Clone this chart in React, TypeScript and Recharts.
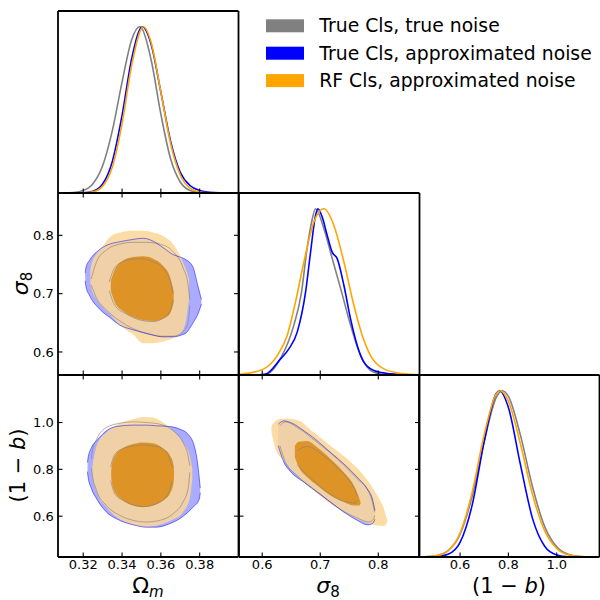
import React from 'react'
import { Area, ComposedChart, Line, XAxis, YAxis } from 'recharts'

// tick values
const omTicks = [0.32, 0.34, 0.36, 0.38]
const s8Ticks = [0.6, 0.7, 0.8]
const bTicks = [0.6, 0.8, 1.0]

// axis ranges
const omRange = [0.307, 0.4]
const s8RangeX = [0.56, 0.871]
const s8RangeY = [0.5605, 0.8726]
const bRangeX = [0.43, 1.177]
const bRangeY = [0.4255, 1.203]
const pdfRange = [0, 1.095]

const seriesNames = ['True Cls, true noise', 'True Cls, approximated noise', 'RF Cls, approximated noise']
const GRAY = '#808080'
const BLUE = '#0000ff'
const ORANGE = '#ffa500'
const seriesColors = [GRAY, BLUE, ORANGE]

// 1D marginals [x, p/pmax]
const omTrueTrue = [[0.307, 0], [0.31, 0.0005], [0.315, 0.003], [0.32, 0.015], [0.325, 0.056], [0.33, 0.164], [0.335, 0.375], [0.34, 0.667], [0.345, 0.923], [0.349, 1.0], [0.35, 0.994], [0.355, 0.8], [0.36, 0.474], [0.365, 0.206], [0.37, 0.066], [0.375, 0.015], [0.38, 0.003], [0.385, 0.0003], [0.39, 0], [0.4, 0]]
const omTrueApprox = [[0.307, 0], [0.315, 0.0002], [0.32, 0.0016], [0.325, 0.011], [0.33, 0.054], [0.335, 0.19], [0.34, 0.466], [0.345, 0.81], [0.3505, 1.0], [0.355, 0.894], [0.36, 0.607], [0.365, 0.312], [0.37, 0.125], [0.375, 0.045], [0.38, 0.015], [0.385, 0.004], [0.39, 0.001], [0.4, 0]]
const omRfApprox = [[0.307, 0], [0.315, 0.0001], [0.32, 0.0009], [0.325, 0.0074], [0.33, 0.041], [0.335, 0.156], [0.34, 0.416], [0.345, 0.77], [0.351, 1.0], [0.355, 0.906], [0.36, 0.607], [0.365, 0.298], [0.37, 0.108], [0.375, 0.029], [0.38, 0.0056], [0.385, 0.001], [0.39, 0], [0.4, 0]]

const s8TrueTrue = [[0.56, 0], [0.59, 0], [0.6086, 0.007], [0.6316, 0.1], [0.6545, 0.3], [0.6678, 0.5], [0.6764, 0.739], [0.684, 0.9], [0.6919, 1.0], [0.7063, 0.88], [0.7207, 0.7], [0.7367, 0.5], [0.7522, 0.3], [0.7695, 0.117], [0.7924, 0.017], [0.82, 0], [0.871, 0]]
const s8TrueApprox = [[0.56, 0], [0.59, 0], [0.6057, 0.005], [0.6316, 0.097], [0.6459, 0.157], [0.6603, 0.258], [0.6747, 0.498], [0.6833, 0.739], [0.6919, 0.96], [0.6959, 1.0], [0.7034, 0.95], [0.712, 0.84], [0.7206, 0.739], [0.7292, 0.7], [0.7407, 0.54], [0.7522, 0.338], [0.7637, 0.178], [0.7752, 0.077], [0.7924, 0.027], [0.8212, 0.007], [0.85, 0], [0.871, 0]]
const s8RfApprox = [[0.56, 0.003], [0.5683, 0.007], [0.6028, 0.037], [0.6258, 0.117], [0.643, 0.238], [0.6574, 0.44], [0.6718, 0.68], [0.689, 0.92], [0.7063, 1.0], [0.7235, 0.9], [0.7408, 0.68], [0.758, 0.418], [0.7724, 0.238], [0.7867, 0.117], [0.8097, 0.037], [0.8442, 0.007], [0.871, 0.002]]

const bTrueTrue = [[0.43, 0], [0.45, 0.0011], [0.5, 0.0076], [0.55, 0.038], [0.6, 0.138], [0.65, 0.365], [0.7, 0.696], [0.75, 0.96], [0.775, 1.0], [0.8, 0.966], [0.85, 0.732], [0.9, 0.421], [0.95, 0.183], [1.0, 0.061], [1.05, 0.015], [1.1, 0.0029], [1.15, 0.0004], [1.177, 0]]
const bTrueApprox = [[0.43, 0], [0.45, 0.0001], [0.5, 0.0018], [0.55, 0.016], [0.6, 0.088], [0.65, 0.312], [0.7, 0.696], [0.75, 0.985], [0.763, 1.0], [0.8, 0.899], [0.85, 0.554], [0.9, 0.231], [0.95, 0.065], [1.0, 0.0124], [1.05, 0.0016], [1.1, 0], [1.177, 0]]
const bRfApprox = [[0.43, 0], [0.45, 0.0009], [0.5, 0.0068], [0.55, 0.037], [0.6, 0.144], [0.65, 0.389], [0.7, 0.738], [0.75, 0.983], [0.7655, 1.0], [0.8, 0.937], [0.85, 0.679], [0.9, 0.375], [0.95, 0.158], [1.0, 0.051], [1.05, 0.012], [1.1, 0.0024], [1.15, 0.0003], [1.177, 0]]

// 2D contours [x, lower, upper]
const omS8GrayOuter = [[0.3241, 0.715, 0.725], [0.3269, 0.692, 0.755], [0.332, 0.672, 0.775], [0.3389, 0.653, 0.785], [0.3457, 0.64, 0.788], [0.3526, 0.632, 0.788], [0.3594, 0.627, 0.785], [0.3663, 0.627, 0.772], [0.3714, 0.635, 0.745], [0.374, 0.65, 0.715], [0.3749, 0.68, 0.69]]
const omS8GrayInner = [[0.3334, 0.705, 0.72], [0.3363, 0.68, 0.745], [0.3423, 0.665, 0.757], [0.3491, 0.655, 0.76], [0.356, 0.652, 0.755], [0.362, 0.66, 0.74], [0.3654, 0.675, 0.715], [0.3663, 0.69, 0.7]]
const omS8BlueOuter = [[0.321, 0.722, 0.735], [0.3214, 0.712, 0.745], [0.3234, 0.696, 0.758], [0.3286, 0.673, 0.776], [0.3337, 0.659, 0.785], [0.3389, 0.646, 0.789], [0.3457, 0.638, 0.793], [0.3509, 0.633, 0.795], [0.356, 0.629, 0.79], [0.3611, 0.626, 0.779], [0.3663, 0.626, 0.767], [0.3706, 0.629, 0.762], [0.3731, 0.633, 0.758], [0.3766, 0.65, 0.745], [0.3791, 0.665, 0.713], [0.3809, 0.682, 0.69]]
const omS8BlueInner = [[0.3354, 0.7, 0.715], [0.338, 0.678, 0.738], [0.3423, 0.665, 0.752], [0.3474, 0.657, 0.758], [0.3526, 0.652, 0.758], [0.3577, 0.655, 0.752], [0.3629, 0.663, 0.738], [0.3654, 0.68, 0.715], [0.3663, 0.695, 0.7]]
const omS8RfOuter = [[0.3236, 0.72, 0.738], [0.3241, 0.71, 0.748], [0.3269, 0.69, 0.768], [0.3303, 0.676, 0.782], [0.3337, 0.665, 0.797], [0.3389, 0.646, 0.805], [0.3457, 0.63, 0.808], [0.3509, 0.615, 0.808], [0.356, 0.615, 0.805], [0.3611, 0.618, 0.799], [0.3663, 0.624, 0.785], [0.3706, 0.633, 0.76], [0.3731, 0.656, 0.74], [0.3745, 0.69, 0.725]]
const omS8RfInner = [[0.3342, 0.705, 0.722], [0.3363, 0.685, 0.742], [0.3406, 0.67, 0.757], [0.3457, 0.66, 0.763], [0.3509, 0.655, 0.764], [0.356, 0.653, 0.76], [0.3611, 0.657, 0.748], [0.3646, 0.665, 0.73], [0.3666, 0.685, 0.705]]

const omBGrayOuter = [[0.3243, 0.805, 0.845], [0.3245, 0.787, 0.872], [0.3269, 0.709, 0.929], [0.332, 0.645, 0.979], [0.3389, 0.603, 0.997], [0.3457, 0.582, 1.003], [0.3526, 0.575, 1.0], [0.3594, 0.582, 0.993], [0.3663, 0.61, 0.965], [0.3714, 0.66, 0.915], [0.374, 0.716, 0.858], [0.3749, 0.787, 0.816]]
const omBGrayInner = [[0.3341, 0.752, 0.809], [0.3363, 0.695, 0.865], [0.3423, 0.66, 0.894], [0.3509, 0.641, 0.904], [0.3594, 0.66, 0.894], [0.3637, 0.695, 0.861], [0.3659, 0.752, 0.809]]
const omBBlueOuter = [[0.3222, 0.79, 0.83], [0.3224, 0.773, 0.844], [0.3243, 0.716, 0.894], [0.3269, 0.674, 0.922], [0.332, 0.617, 0.965], [0.3371, 0.589, 0.983], [0.3457, 0.563, 0.989], [0.3526, 0.553, 0.989], [0.3577, 0.553, 0.986], [0.3646, 0.568, 0.983], [0.3697, 0.589, 0.972], [0.374, 0.617, 0.95], [0.3774, 0.645, 0.894], [0.3791, 0.66, 0.816], [0.38, 0.681, 0.745], [0.3803, 0.7, 0.72]]
const omBBlueInner = [[0.3354, 0.752, 0.801], [0.338, 0.695, 0.865], [0.3423, 0.663, 0.889], [0.3509, 0.645, 0.901], [0.3594, 0.66, 0.894], [0.3637, 0.695, 0.865], [0.3654, 0.745, 0.816]]
const omBRfOuter = [[0.3246, 0.785, 0.805], [0.3248, 0.773, 0.816], [0.3269, 0.702, 0.901], [0.332, 0.638, 0.957], [0.3371, 0.596, 0.989], [0.3457, 0.563, 1.014], [0.3509, 0.553, 1.024], [0.356, 0.556, 1.021], [0.3611, 0.568, 1.0], [0.3663, 0.586, 0.965], [0.3714, 0.617, 0.915], [0.3749, 0.674, 0.858], [0.3762, 0.759, 0.801]]
const omBRfInner = [[0.3344, 0.77, 0.79], [0.3346, 0.752, 0.809], [0.3363, 0.702, 0.858], [0.3406, 0.667, 0.891], [0.3457, 0.645, 0.908], [0.3509, 0.638, 0.915], [0.356, 0.645, 0.911], [0.3611, 0.667, 0.889], [0.3646, 0.695, 0.861], [0.3666, 0.745, 0.816], [0.3668, 0.77, 0.79]]

const s8BGrayOuter = [[0.6305, 0.901, 0.986], [0.6402, 0.83, 1.003], [0.6603, 0.773, 0.979], [0.6948, 0.705, 0.915], [0.7293, 0.638, 0.844], [0.7638, 0.592, 0.759], [0.7839, 0.575, 0.702], [0.7914, 0.586, 0.645], [0.7937, 0.603, 0.617]]
const s8BGrayInner = [[0.6603, 0.82, 0.88], [0.6776, 0.776, 0.898], [0.7006, 0.726, 0.868], [0.7236, 0.684, 0.82], [0.7466, 0.66, 0.762], [0.7609, 0.656, 0.705], [0.7638, 0.668, 0.685]]
const s8BBlueOuter = [[0.6276, 0.901, 0.993], [0.6374, 0.83, 1.007], [0.6489, 0.79, 1.0], [0.6718, 0.745, 0.965], [0.6948, 0.702, 0.922], [0.7178, 0.66, 0.872], [0.7408, 0.617, 0.823], [0.7638, 0.582, 0.766], [0.781, 0.563, 0.716], [0.7897, 0.568, 0.674], [0.7943, 0.586, 0.624]]
const s8BBlueInner = [[0.6632, 0.816, 0.887], [0.6776, 0.773, 0.901], [0.7006, 0.723, 0.872], [0.7236, 0.681, 0.823], [0.7466, 0.657, 0.766], [0.7609, 0.653, 0.709], [0.7649, 0.66, 0.681]]
const s8BRfOuter = [[0.6161, 0.957, 0.986], [0.623, 0.887, 1.007], [0.6374, 0.837, 1.017], [0.6603, 0.773, 1.011], [0.6891, 0.709, 0.957], [0.7178, 0.653, 0.901], [0.7466, 0.61, 0.844], [0.7753, 0.575, 0.773], [0.7983, 0.56, 0.688], [0.8098, 0.558, 0.631], [0.8155, 0.575, 0.582]]
const s8BRfInner = [[0.6563, 0.851, 0.901], [0.6632, 0.809, 0.918], [0.6776, 0.766, 0.921], [0.6948, 0.731, 0.894], [0.7178, 0.688, 0.844], [0.7408, 0.66, 0.787], [0.758, 0.645, 0.731], [0.7667, 0.645, 0.681], [0.7695, 0.653, 0.66]]

// layout of the triangle
const COLS = [58, 238.5, 419]
const ROWS = [10.5, 192.5, 374.5]
const PW = 180.5
const PH = 182
const PAD = 60

const frame = { stroke: '#000', strokeWidth: 1.8 }
const tickLn = { stroke: '#000', strokeWidth: 1.1 }
const tickTxt = { fill: '#000', fontSize: 13 }
const noLabel = () => <g />
const fmt1 = (v: number) => v.toFixed(1)
const fmt2 = (v: number) => v.toFixed(2)

type PanelProps = {
    col: number
    row: number
    xRange: number[]
    yRange: number[]
    xTicks: number[]
    yTicks?: number[]
    xFmt: (v: number) => string
    xLabels?: boolean
    yLabels?: boolean
    children: React.ReactNode
}

const Panel = ({ col, row, xRange, yRange, xTicks, yTicks, xFmt, xLabels, yLabels, children }: PanelProps) => (
    <div style={{ position: 'absolute', left: COLS[col] - PAD, top: ROWS[row] - PAD }}>
        <ComposedChart width={PW + 2 * PAD} height={PH + 2 * PAD} margin={{ top: 0, right: 0, bottom: 0, left: 0 }}>
            <XAxis xAxisId='b' orientation='bottom' type='number' dataKey='x' domain={xRange} allowDataOverflow ticks={xTicks} interval={0} height={PAD}
                axisLine={frame} tickLine={tickLn} tickSize={-4.5} tickMargin={7.5} tick={xLabels ? tickTxt : noLabel} tickFormatter={xFmt} />
            <XAxis xAxisId='t' orientation='top' type='number' dataKey='x' domain={xRange} allowDataOverflow ticks={xTicks} interval={0} height={PAD}
                axisLine={frame} tickLine={yTicks ? tickLn : false} tickSize={-4.5} tick={noLabel} />
            <YAxis yAxisId='l' orientation='left' type='number' domain={yRange} allowDataOverflow ticks={yTicks} interval={0} width={PAD}
                axisLine={frame} tickLine={yTicks ? tickLn : false} tickSize={-4.5} tickMargin={8.7} tick={yLabels ? tickTxt : noLabel} tickFormatter={fmt1} />
            <YAxis yAxisId='r' orientation='right' type='number' domain={yRange} allowDataOverflow ticks={yTicks} interval={0} width={PAD}
                axisLine={frame} tickLine={yTicks ? tickLn : false} tickSize={-4.5} tick={noLabel} />
            {children}
        </ComposedChart>
    </div>
)

const curve = (pts: number[][], color: string) => (
    <Line xAxisId='b' yAxisId='l' data={pts.map(([x, y]) => ({ x, y }))} dataKey='y' type='monotone'
        stroke={color} strokeWidth={1.6} dot={false} activeDot={false} isAnimationActive={false} />
)

const toRange = (pts: number[][]) => pts.map(([x, lo, hi]) => ({ x, r: [lo, hi] }))

const fillArea = (pts: number[][], fill: string, opacity: number) => (
    <Area xAxisId='b' yAxisId='l' data={toRange(pts)} dataKey='r' type='monotone' fill={fill} fillOpacity={opacity}
        stroke='none' dot={false} activeDot={false} isAnimationActive={false} />
)

const lineArea = (pts: number[][], color: string, opacity: number) => (
    <Area xAxisId='b' yAxisId='l' data={toRange(pts)} dataKey='r' type='monotone' fill='none' stroke={color}
        strokeOpacity={opacity} strokeWidth={1} dot={false} activeDot={false} isAnimationActive={false} />
)

const contours = (grayOut: number[][], grayIn: number[][], blueOut: number[][], blueIn: number[][], rfOut: number[][], rfIn: number[][]) => [
    fillArea(blueOut, BLUE, 0.33),
    fillArea(blueIn, BLUE, 0.33),
    fillArea(rfOut, '#fcd696', 0.85),
    fillArea(rfIn, '#dc8a10', 0.85),
    lineArea(grayOut, GRAY, 0.6),
    lineArea(grayIn, GRAY, 0.6),
    lineArea(blueOut, BLUE, 0.5),
].map((el, i) => React.cloneElement(el, { key: i }))

const App = () => (
    <div style={{ position: 'absolute', left: 0, top: 0, width: 600, height: 600, overflow: 'hidden', background: '#fff', fontFamily: '"DejaVu Sans", sans-serif' }}>
        <Panel col={0} row={0} xRange={omRange} yRange={pdfRange} xTicks={omTicks} xFmt={fmt2}>
            {curve(omTrueTrue, GRAY)}
            {curve(omTrueApprox, BLUE)}
            {curve(omRfApprox, ORANGE)}
        </Panel>
        <Panel col={0} row={1} xRange={omRange} yRange={s8RangeY} xTicks={omTicks} yTicks={s8Ticks} xFmt={fmt2} yLabels>
            {contours(omS8GrayOuter, omS8GrayInner, omS8BlueOuter, omS8BlueInner, omS8RfOuter, omS8RfInner)}
        </Panel>
        <Panel col={0} row={2} xRange={omRange} yRange={bRangeY} xTicks={omTicks} yTicks={bTicks} xFmt={fmt2} xLabels yLabels>
            {contours(omBGrayOuter, omBGrayInner, omBBlueOuter, omBBlueInner, omBRfOuter, omBRfInner)}
        </Panel>
        <Panel col={1} row={1} xRange={s8RangeX} yRange={pdfRange} xTicks={s8Ticks} xFmt={fmt1}>
            {curve(s8TrueTrue, GRAY)}
            {curve(s8TrueApprox, BLUE)}
            {curve(s8RfApprox, ORANGE)}
        </Panel>
        <Panel col={1} row={2} xRange={s8RangeX} yRange={bRangeY} xTicks={s8Ticks} yTicks={bTicks} xFmt={fmt1} xLabels>
            {contours(s8BGrayOuter, s8BGrayInner, s8BBlueOuter, s8BBlueInner, s8BRfOuter, s8BRfInner)}
        </Panel>
        <Panel col={2} row={2} xRange={bRangeX} yRange={pdfRange} xTicks={bTicks} xFmt={fmt1} xLabels>
            {curve(bTrueTrue, GRAY)}
            {curve(bTrueApprox, BLUE)}
            {curve(bRfApprox, ORANGE)}
        </Panel>

        <svg width={600} height={600} style={{ position: 'absolute', left: 0, top: 0, pointerEvents: 'none' }}>
            {seriesNames.map((name, i) => (
                <g key={name}>
                    <rect x={266} y={19.3 + i * 27.4} width={38} height={13} fill={seriesColors[i]} />
                    <text x={319.3} y={32.3 + i * 27.4} fontSize={18.8} fill='#000'>{name}</text>
                </g>
            ))}
            <text x={148} y={593} fontSize={22} textAnchor='middle'>Ω<tspan fontStyle='italic' fontSize={15} dy={4}>m</tspan></text>
            <text x={328} y={593} fontSize={22} textAnchor='middle'><tspan fontStyle='italic'>σ</tspan><tspan fontSize={15} dy={4}>8</tspan></text>
            <text x={509} y={593} fontSize={21} textAnchor='middle'>(1 − <tspan fontStyle='italic'>b</tspan>)</text>
            <text transform='translate(28,283.5) rotate(-90)' fontSize={22} textAnchor='middle'><tspan fontStyle='italic'>σ</tspan><tspan fontSize={15} dy={4}>8</tspan></text>
            <text transform='translate(25,465.5) rotate(-90)' fontSize={21} textAnchor='middle'>(1 − <tspan fontStyle='italic'>b</tspan>)</text>
        </svg>
    </div>
)

export default App
